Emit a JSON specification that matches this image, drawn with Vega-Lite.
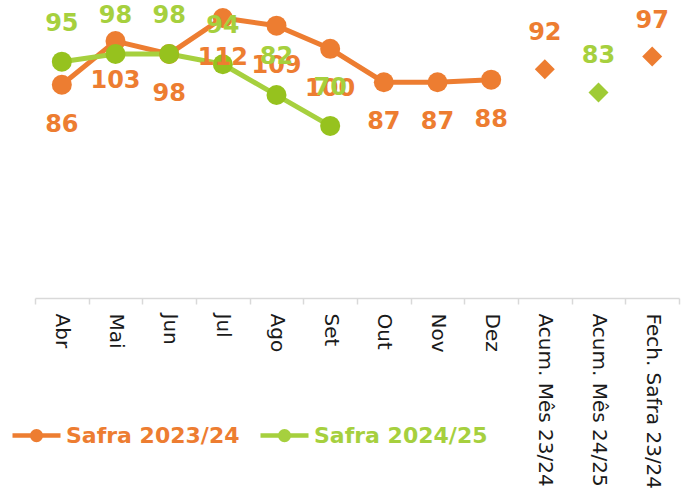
{
  "$schema": "https://vega.github.io/schema/vega-lite/v6.json",
  "width": 644,
  "height": 298,
  "autosize": "none",
  "padding": {"left": 35, "top": 0, "right": 5, "bottom": 190},
  "background": "white",
  "config": {"view": {"stroke": null}},
  "data": {
    "values": [
      {"cat": "Abr", "serie": "Safra 2023/24", "kind": "line", "value": 86},
      {"cat": "Mai", "serie": "Safra 2023/24", "kind": "line", "value": 103},
      {"cat": "Jun", "serie": "Safra 2023/24", "kind": "line", "value": 98},
      {"cat": "Jul", "serie": "Safra 2023/24", "kind": "line", "value": 112},
      {"cat": "Ago", "serie": "Safra 2023/24", "kind": "line", "value": 109},
      {"cat": "Set", "serie": "Safra 2023/24", "kind": "line", "value": 100},
      {"cat": "Out", "serie": "Safra 2023/24", "kind": "line", "value": 87},
      {"cat": "Nov", "serie": "Safra 2023/24", "kind": "line", "value": 87},
      {"cat": "Dez", "serie": "Safra 2023/24", "kind": "line", "value": 88},
      {"cat": "Abr", "serie": "Safra 2024/25", "kind": "line", "value": 95},
      {"cat": "Mai", "serie": "Safra 2024/25", "kind": "line", "value": 98},
      {"cat": "Jun", "serie": "Safra 2024/25", "kind": "line", "value": 98},
      {"cat": "Jul", "serie": "Safra 2024/25", "kind": "line", "value": 94},
      {"cat": "Ago", "serie": "Safra 2024/25", "kind": "line", "value": 82},
      {"cat": "Set", "serie": "Safra 2024/25", "kind": "line", "value": 70},
      {"cat": "Acum. Mês 23/24", "serie": "Safra 2023/24", "kind": "diamond", "value": 92},
      {"cat": "Acum. Mês 24/25", "serie": "Safra 2024/25", "kind": "diamond", "value": 83},
      {"cat": "Fech. Safra 23/24", "serie": "Safra 2023/24", "kind": "diamond", "value": 97}
    ]
  },
  "encoding": {
    "x": {
      "field": "cat",
      "type": "nominal",
      "sort": ["Abr", "Mai", "Jun", "Jul", "Ago", "Set", "Out", "Nov", "Dez", "Acum. Mês 23/24", "Acum. Mês 24/25", "Fech. Safra 23/24"],
      "scale": {"type": "band", "paddingInner": 0, "paddingOuter": 0, "domain": ["Abr", "Mai", "Jun", "Jul", "Ago", "Set", "Out", "Nov", "Dez", "Acum. Mês 23/24", "Acum. Mês 24/25", "Fech. Safra 23/24"]},
      "axis": {
        "title": null,
        "labelAngle": 90,
        "labelAlign": "left",
        "labelBaseline": "middle",
        "labelFont": "DejaVu Sans",
        "labelFontSize": 20,
        "labelColor": "#1a1a1a",
        "labelPadding": 9,
        "tickSize": 6,
        "tickBand": "extent",
        "tickColor": "#d9d9d9",
        "tickWidth": 1.5,
        "domainColor": "#d9d9d9",
        "domainWidth": 1.5,
        "labelOverlap": false,
        "labelLimit": 400
      }
    },
    "y": {
      "field": "value",
      "type": "quantitative",
      "scale": {"domain": [3, 119], "zero": false, "nice": false},
      "axis": null
    }
  },
  "layer": [
    {
      "transform": [{"filter": "datum.kind == 'line'"}],
      "mark": {"type": "line", "strokeWidth": 5},
      "encoding": {
        "color": {
          "field": "serie",
          "type": "nominal",
          "scale": {"domain": ["Safra 2023/24", "Safra 2024/25"], "range": ["#ED7D31", "#A6D03E"]},
          "legend": {
            "title": null,
            "orient": "none",
            "direction": "horizontal",
            "legendX": -25,
            "legendY": 409,
            "symbolType": "M-1,0L1,0M0.18,0A0.18,0.18,0,1,1,-0.18,0A0.18,0.18,0,1,1,0.18,0M0.08,0A0.08,0.08,0,1,1,-0.08,0A0.08,0.08,0,1,1,0.08,0",
            "symbolSize": 2304,
            "symbolStrokeWidth": 4.5,
            "labelFont": "DejaVu Sans",
            "labelFontSize": 22,
            "labelFontWeight": "bold",
            "labelColor": {"expr": "datum.label == 'Safra 2023/24' ? '#ED7D31' : '#A6D03E'"},
            "labelOffset": 3,
            "columnPadding": 11,
            "labelLimit": 300
          }
        }
      }
    },
    {
      "transform": [{"filter": "datum.kind == 'line' && datum.serie == 'Safra 2023/24'"}],
      "mark": {"type": "circle", "size": 400, "opacity": 1, "color": "#ED7D31"}
    },
    {
      "transform": [{"filter": "datum.kind == 'line' && datum.serie == 'Safra 2024/25'"}],
      "mark": {"type": "circle", "size": 400, "opacity": 1, "color": "#96C21E"}
    },
    {
      "transform": [{"filter": "datum.kind == 'diamond' && datum.serie == 'Safra 2023/24'"}],
      "mark": {"type": "point", "shape": "diamond", "size": 400, "filled": true, "opacity": 1, "color": "#ED7D31"}
    },
    {
      "transform": [{"filter": "datum.kind == 'diamond' && datum.serie == 'Safra 2024/25'"}],
      "mark": {"type": "point", "shape": "diamond", "size": 400, "filled": true, "opacity": 1, "color": "#9FCB35"}
    },
    {
      "transform": [{"filter": "datum.kind == 'line' && datum.serie == 'Safra 2023/24'"}],
      "mark": {"type": "text", "dy": 40, "font": "DejaVu Sans", "fontSize": 24, "fontWeight": "bold", "color": "#ED7D31", "baseline": "middle"},
      "encoding": {"text": {"field": "value", "type": "quantitative"}}
    },
    {
      "transform": [{"filter": "datum.kind == 'line' && datum.serie == 'Safra 2024/25'"}],
      "mark": {"type": "text", "dy": -38, "font": "DejaVu Sans", "fontSize": 24, "fontWeight": "bold", "color": "#A6D03E", "baseline": "middle"},
      "encoding": {"text": {"field": "value", "type": "quantitative"}}
    },
    {
      "transform": [{"filter": "datum.kind == 'diamond' && datum.serie == 'Safra 2023/24'"}],
      "mark": {"type": "text", "dy": -36, "font": "DejaVu Sans", "fontSize": 24, "fontWeight": "bold", "color": "#ED7D31", "baseline": "middle"},
      "encoding": {"text": {"field": "value", "type": "quantitative"}}
    },
    {
      "transform": [{"filter": "datum.kind == 'diamond' && datum.serie == 'Safra 2024/25'"}],
      "mark": {"type": "text", "dy": -36, "font": "DejaVu Sans", "fontSize": 24, "fontWeight": "bold", "color": "#A6D03E", "baseline": "middle"},
      "encoding": {"text": {"field": "value", "type": "quantitative"}}
    }
  ]
}
